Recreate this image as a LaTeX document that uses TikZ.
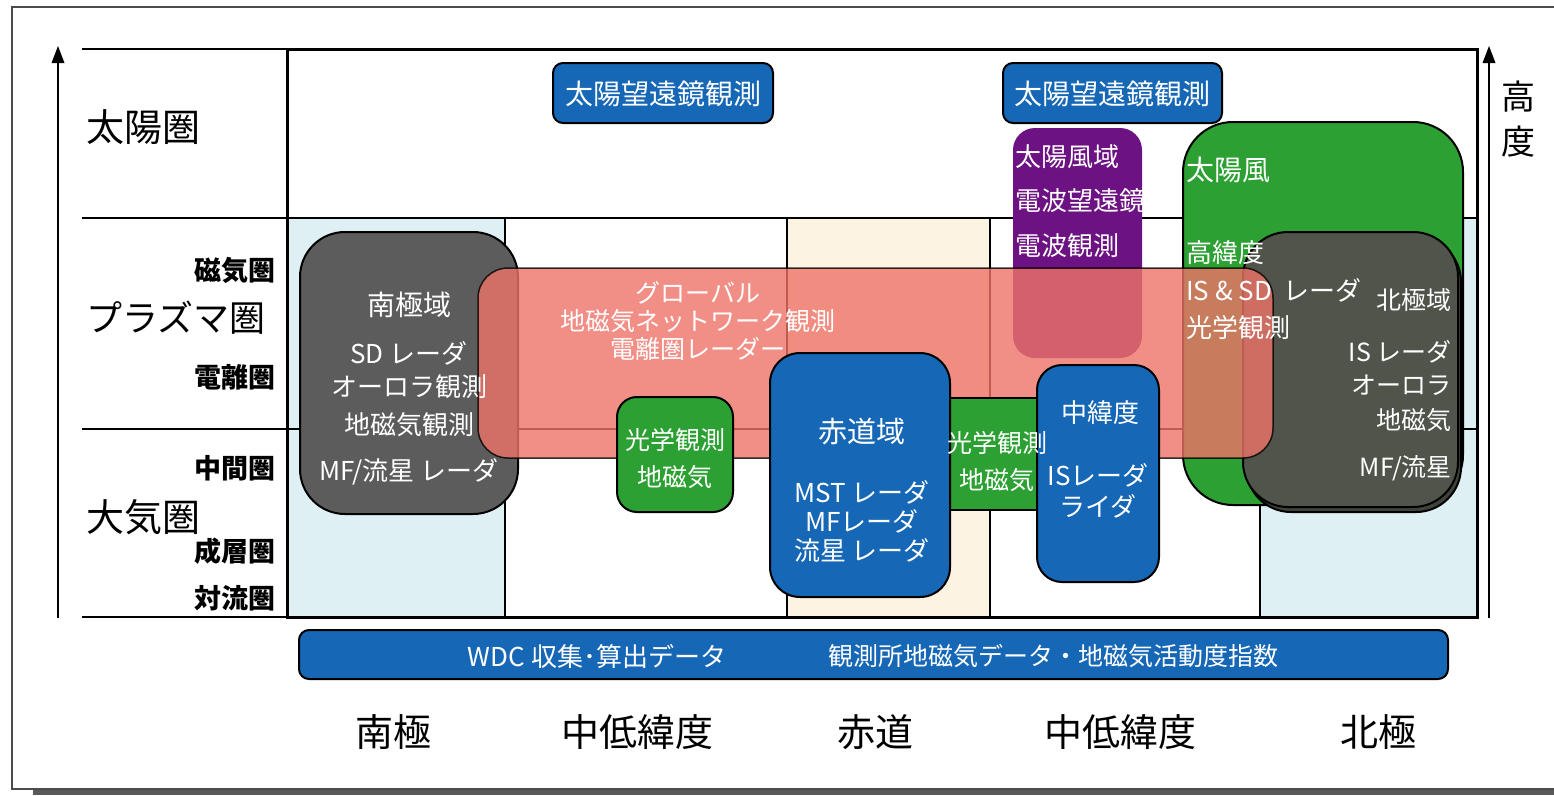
\documentclass[tikz,border=0pt]{standalone}
\usepackage{fontspec}
\setmainfont{Noto Sans CJK JP}
\usetikzlibrary{arrows.meta}
\definecolor{lblue}{RGB}{222,240,244}
\definecolor{cream}{RGB}{253,243,226}
\definecolor{boxblue}{RGB}{22,103,181}
\definecolor{sgray}{RGB}{92,92,92}
\definecolor{ngray}{RGB}{80,84,74}
\definecolor{boxgreen}{RGB}{44,160,50}
\definecolor{boxpurple}{RGB}{108,18,130}
\definecolor{boxred}{RGB}{238,116,104}
\newcommand\jsz[1]{\fontsize{#1}{#1}\selectfont}
\begin{document}
\begin{tikzpicture}[x=1pt,y=-1pt,
  wt/.style={text=white,inner sep=0pt,font=\jsz{26}},
  bk/.style={text=black,inner sep=0pt},
  big/.style={bk,font=\jsz{38}},
  small/.style={bk,font=\jsz{27}\bfseries,anchor=east},
  thin/.style={line width=2pt},
  boxline/.style={draw=black,line width=2pt},
  axis/.style={line width=2.4pt}]
\useasboundingbox (0,0) rectangle (1554,795);
\fill[white] (0,0) rectangle (1554,795);
% outer frame with shadow
\fill[black!65] (33,789) rectangle (1554,795);
\draw[line width=2pt,draw=black!70] (1554,7) -- (12,7) -- (12,789) -- (1554,789);
% column fills
\fill[lblue] (287,218) rectangle (505,617);
\fill[cream] (787,218) rectangle (990,617);
\fill[lblue] (1260,218) rectangle (1477,617);
% grid
\draw[thin] (82,49) -- (287,49);
\draw[thin] (82,218) -- (1477,218);
\draw[thin] (82,429) -- (1477,429);
\draw[thin] (82,617) -- (287,617);
\foreach \xx in {505,787,990,1260} \draw[line width=1.6pt] (\xx,218) -- (\xx,617);
\draw[line width=3pt] (287,49) rectangle (1477,617);
% axes
\coordinate (la0) at (58,618); \coordinate (la1) at (58,58);
\coordinate (ra0) at (1489,618); \coordinate (ra1) at (1489,58);
\draw[axis] (la0) -- (la1);
\draw[axis] (ra0) -- (ra1);
\fill (58,46) -- (51.5,63) -- (64.5,63) -- cycle;
\fill (1489,46) -- (1482.5,63) -- (1495.5,63) -- cycle;
% boxes
\filldraw[boxline,fill=sgray,rounded corners=45pt] (300,232) rectangle (518,514);
\filldraw[boxline,fill=boxgreen,rounded corners=50pt] (1183,122) rectangle (1463,505);
\filldraw[boxline,fill=ngray!80!black,rounded corners=45pt] (1246,237) rectangle (1461,512);
\filldraw[boxline,fill=ngray,rounded corners=45pt] (1243,232) rectangle (1458,507);
\fill[boxpurple,rounded corners=22pt] (1013,128) rectangle (1142,358);
\filldraw[draw=black,line width=1.5pt,fill=boxred,fill opacity=0.8,draw opacity=0.8,rounded corners=30pt] (478,268) rectangle (1273,458);
\filldraw[boxline,fill=boxgreen,rounded corners=20pt] (617,397) rectangle (733,512);
\filldraw[boxline,fill=boxgreen] (930,398) rectangle (1045,510);
\filldraw[boxline,fill=boxblue,rounded corners=30pt] (770,353) rectangle (950,597);
\filldraw[boxline,fill=boxblue,rounded corners=25pt] (1037,365) rectangle (1159,582);
\filldraw[boxline,fill=boxblue,rounded corners=10pt] (553,63) rectangle (773,123);
\filldraw[boxline,fill=boxblue,rounded corners=10pt] (1003,63) rectangle (1222,123);
\filldraw[boxline,fill=boxblue,rounded corners=10pt] (299,630) rectangle (1448,679);
% left labels
\node[big,anchor=west] (taiyoken) at (86,127) {太陽圏};
\node[small] (jikiken) at (276,270) {磁気圏};
\node[big,anchor=west,font=\jsz{36}] (plasma) at (86,318) {プラズマ圏};
\node[small] (denriken) at (276,377) {電離圏};
\node[small] (chukanken) at (276,468) {中間圏};
\node[big,anchor=west] (taikiken) at (86,517) {大気圏};
\node[small] (seisoken) at (276,551) {成層圏};
\node[small] (tairyuken) at (276,598) {対流圏};
\node[bk,font=\jsz{34}] (kou) at (1518,97) {高};
\node[bk,font=\jsz{34}] (do) at (1518,142) {度};
% top boxes
\node[wt,font=\jsz{28}] (tb1) at (663,94) {太陽望遠鏡観測};
\node[wt,font=\jsz{28}] (tb2) at (1112,94) {太陽望遠鏡観測};
% purple
\node[wt,anchor=west] (p1) at (1015,157) {太陽風域};
\node[wt,anchor=west] (p2) at (1015,201) {電波望遠鏡};
\node[wt,anchor=west] (p3) at (1015,246) {電波観測};
% south
\node[wt,font=\jsz{28}] (s1) at (409,305) {南極域};
\node[wt] (s2) at (409,353) {SD レーダ};
\node[wt] (s3) at (409,387) {オーロラ観測};
\node[wt] (s4) at (409,425) {地磁気観測};
\node[wt] (s5) at (409,472) {MF/流星 レーダ};
% red
\node[wt,font=\jsz{25}] (r1) at (698,293) {グローバル};
\node[wt,font=\jsz{25}] (r2) at (698,321) {地磁気ネットワーク観測};
\node[wt,font=\jsz{25}] (r3) at (698,349) {電離圏レーダー};
% green left
\node[wt,font=\jsz{25}] (gl1) at (675,440) {光学観測};
\node[wt,font=\jsz{25}] (gl2) at (675,477) {地磁気};
% equator
\node[wt,font=\jsz{29}] (e1) at (862,432) {赤道域};
\node[wt] (e2) at (862,492) {MST レーダ};
\node[wt] (e3) at (862,521) {MFレーダ};
\node[wt] (e4) at (862,551) {流星 レーダ};
% green right
\node[wt,font=\jsz{25}] (gr1) at (997,443) {光学観測};
\node[wt,font=\jsz{25}] (gr2) at (997,480) {地磁気};
% mid-lat
\node[wt] (m1) at (1100,413) {中緯度};
\node[wt] (m2) at (1098,475) {ISレーダ};
\node[wt] (m3) at (1098,506) {ライダ};
% green big
\node[wt,anchor=west,font=\jsz{28}] (n1) at (1186,170) {太陽風};
\node[wt,anchor=west] (n2) at (1186,253) {高緯度};
\node[wt,anchor=west] (n3) at (1186,290) {IS \& SD\ \ レーダ};
\node[wt,anchor=west] (n4) at (1186,328) {光学観測};
% north gray
\node[wt,anchor=east,font=\jsz{25}] (k1) at (1452,300) {北極域};
\node[wt,anchor=east,font=\jsz{25}] (k2) at (1452,352) {IS レーダ};
\node[wt,anchor=east,font=\jsz{25}] (k3) at (1452,385) {オーロラ};
\node[wt,anchor=east,font=\jsz{25}] (k4) at (1452,420) {地磁気};
\node[wt,anchor=east,font=\jsz{25}] (k5) at (1452,468) {MF/流星};
% WDC
\node[wt,font=\jsz{26}] (w1) at (597,656) {WDC 収集･算出データ};
\node[wt,font=\jsz{25}] (w2) at (1053,656) {観測所地磁気データ・地磁気活動度指数};
% bottom labels
\node[big] (b1) at (393,732) {南極};
\node[big] (b2) at (637,732) {中低緯度};
\node[big] (b3) at (875,732) {赤道};
\node[big] (b4) at (1120,732) {中低緯度};
\node[big] (b5) at (1378,732) {北極};
\end{tikzpicture}
\end{document}
